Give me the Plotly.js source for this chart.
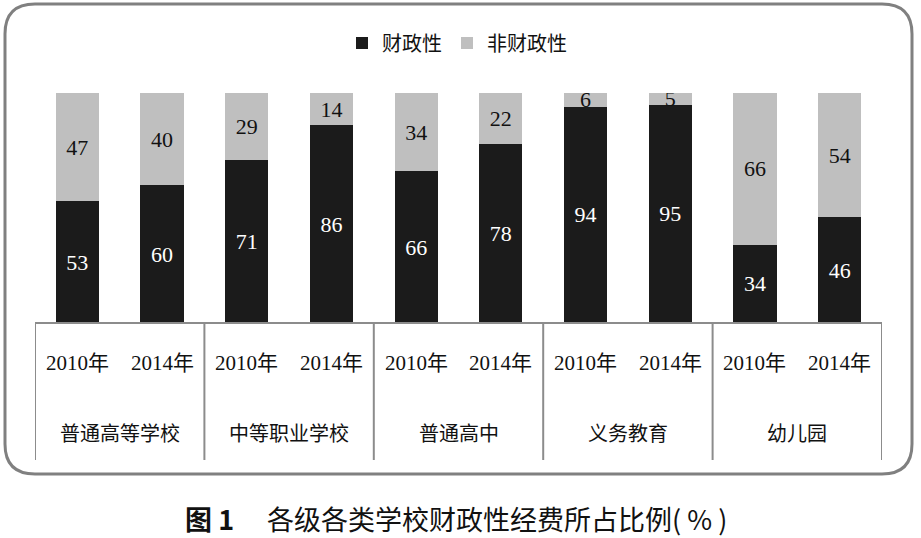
<!DOCTYPE html>
<html>
<head>
<meta charset="utf-8">
<script src="https://cdn.plot.ly/plotly-3.0.1.min.js"></script>
<style>html,body{margin:0;padding:0;background:#fff;}#chart{width:921px;height:538px;}</style>
</head>
<body>
<div id="chart"></div>
<script>
const groups = ["普通高等学校", "中等职业学校", "普通高中", "义务教育", "幼儿园"];
const years = ["2010年", "2014年"];
const fiscal = [53, 60, 71, 86, 66, 78, 94, 95, 34, 46];
const nonFiscal = [47, 40, 29, 14, 34, 22, 6, 5, 66, 54];
const seriesNames = ["财政性", "非财政性"];
const caption = "<b>图 1</b>　 各级各类学校财政性经费所占比例( % )";

const cats = [];
groups.forEach((g, gi) => years.forEach((y, yi) => cats.push(gi * 2 + yi)));

const serif = "Liberation Serif, 'Times New Roman', 'Noto Sans CJK SC', serif";
const cjk = "'Noto Sans CJK SC', sans-serif";

// pixel -> paper helpers (plot area: x 35..882, y 93..323)
const L0 = 35, R0 = 882, T0 = 93, B0 = 323;
const px = v => (v - L0) / (R0 - L0);
const py = v => (B0 - v) / (B0 - T0);

const traces = [
  {
    type: "bar", name: seriesNames[0], x: cats, y: fiscal,
    text: fiscal.map(String), textposition: "inside", insidetextanchor: "middle",
    textangle: 0, constraintext: "none",
    insidetextfont: {family: serif, size: 22, color: "#ffffff"},
    marker: {color: "#1b1b1b", line: {width: 0}},
    width: 0.51, hoverinfo: "skip"
  },
  {
    type: "bar", name: seriesNames[1], x: cats, y: nonFiscal,
    text: nonFiscal.map(String), textposition: "inside", insidetextanchor: "middle",
    textangle: 0, constraintext: "none",
    insidetextfont: {family: serif, size: 22, color: "#111111"},
    marker: {color: "#bfbfbf", line: {width: 0}},
    width: 0.51, hoverinfo: "skip"
  }
];

const shapes = [];
// baseline
shapes.push({type: "line", xref: "paper", yref: "paper", x0: 0, x1: 1, y0: 0, y1: 0,
  line: {color: "#8c8c8c", width: 2}});
// group dividers
for (let g = 0; g <= groups.length; g++) {
  const xv = g * 2 - 0.5;
  shapes.push({type: "line", xref: "x", yref: "paper", x0: xv, x1: xv, y0: 0, y1: py(460),
    line: {color: "#8c8c8c", width: 2}});
}
// rounded frame
const fl = 5, fr = 912, ft = 4, fb = 474, rad = 30;
const P = (a, b) => px(a).toFixed(5) + "," + py(b).toFixed(5);
const framePath = "M" + P(fl + rad, ft) + " L" + P(fr - rad, ft) +
  " Q" + P(fr, ft) + " " + P(fr, ft + rad) + " L" + P(fr, fb - rad) +
  " Q" + P(fr, fb) + " " + P(fr - rad, fb) + " L" + P(fl + rad, fb) +
  " Q" + P(fl, fb) + " " + P(fl, fb - rad) + " L" + P(fl, ft + rad) +
  " Q" + P(fl, ft) + " " + P(fl + rad, ft) + " Z";
shapes.push({type: "path", xref: "paper", yref: "paper", path: framePath,
  line: {color: "#808080", width: 3}, fillcolor: "rgba(0,0,0,0)"});

const annotations = [];
cats.forEach((c, i) => {
  annotations.push({x: c, xref: "x", y: py(363), yref: "paper", text: years[i % 2],
    showarrow: false, font: {family: serif, size: 21, color: "#111"}, xanchor: "center", yanchor: "middle"});
});
groups.forEach((g, gi) => {
  annotations.push({x: gi * 2 + 0.5, xref: "x", y: py(432), yref: "paper", text: g,
    showarrow: false, font: {family: cjk, size: 20, color: "#111"}, xanchor: "center", yanchor: "middle"});
});
annotations.push({x: px(456), xref: "paper", y: py(518), yref: "paper", text: caption,
  showarrow: false, font: {family: cjk, size: 27, color: "#111"}, xanchor: "center", yanchor: "middle"});

const layout = {
  width: 921, height: 538,
  margin: {l: L0, r: 921 - R0, t: T0, b: 538 - B0, pad: 0},
  paper_bgcolor: "#ffffff", plot_bgcolor: "#ffffff",
  barmode: "stack", bargap: 0.49,
  showlegend: true,
  legend: {orientation: "h", x: px(457), xanchor: "center", y: py(43), yanchor: "middle",
    font: {family: cjk, size: 20, color: "#111"}, itemwidth: 30, traceorder: "normal",
    bgcolor: "rgba(0,0,0,0)"},
  xaxis: {range: [-0.5, 9.5], showticklabels: false, showgrid: false, zeroline: false,
    showline: false, ticks: "", fixedrange: true},
  yaxis: {range: [0, 100], showticklabels: false, showgrid: false, zeroline: false,
    showline: false, ticks: "", fixedrange: true},
  shapes: shapes,
  annotations: annotations
};

Plotly.newPlot("chart", traces, layout, {displayModeBar: false, staticPlot: true});
</script>
</body>
</html>
